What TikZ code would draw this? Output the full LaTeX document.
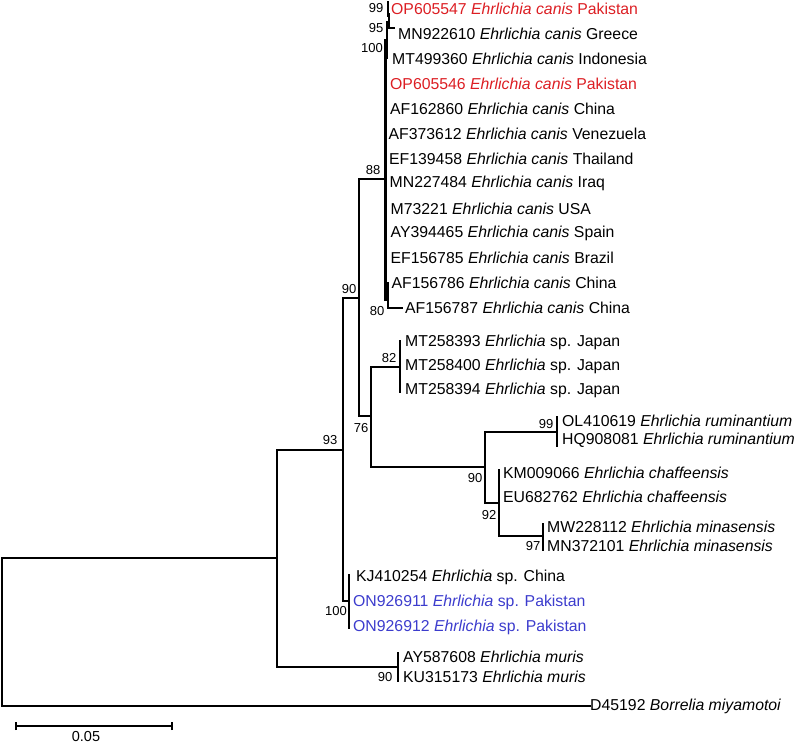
\documentclass[tikz,border=0pt]{standalone}
\usepackage{fontspec}
\setmainfont{Liberation Sans}
\definecolor{pkred}{RGB}{220,30,35}
\definecolor{pkblue}{RGB}{60,60,205}
\begin{document}
\begin{tikzpicture}[x=1pt,y=-1pt,
  br/.style={line width=2.4pt,line cap=rect},
  leaf/.style={anchor=west,inner sep=0pt,font=\fontsize{15.8}{18}\selectfont},
  bs/.style={inner sep=0pt,font=\fontsize{13}{15}\selectfont}]
\useasboundingbox (0,0) rectangle (796,747);
% leaves
\node[leaf,text=pkred] (l1) at (391,9) {OP605547 \textit{Ehrlichia canis} Pakistan};
\node[leaf] (l2) at (398,33.5) {MN922610 \textit{Ehrlichia canis} Greece};
\node[leaf] (l3) at (392,58.5) {MT499360 \textit{Ehrlichia canis} Indonesia};
\node[leaf,text=pkred] (l4) at (390,83.5) {OP605546 \textit{Ehrlichia canis} Pakistan};
\node[leaf] (l5) at (390,108.5) {AF162860 \textit{Ehrlichia canis} China};
\node[leaf] (l6) at (388.5,133.5) {AF373612 \textit{Ehrlichia canis} Venezuela};
\node[leaf] (l7) at (389,158.5) {EF139458 \textit{Ehrlichia canis} Thailand};
\node[leaf] (l8) at (389.5,183.5) {MN227484 \textit{Ehrlichia canis} Iraq};
\node[leaf] (l9) at (390.5,208.5) {M73221 \textit{Ehrlichia canis} USA};
\node[leaf] (l10) at (390.5,233.5) {AY394465 \textit{Ehrlichia canis} Spain};
\node[leaf] (l11) at (390.5,258) {EF156785 \textit{Ehrlichia canis} Brazil};
\node[leaf] (l12) at (391.5,283) {AF156786 \textit{Ehrlichia canis} China};
\node[leaf] (l13) at (405,308) {AF156787 \textit{Ehrlichia canis} China};
\node[leaf] (m1) at (405,342) {MT258393 \textit{Ehrlichia} sp. Japan};
\node[leaf] (m2) at (405,366) {MT258400 \textit{Ehrlichia} sp. Japan};
\node[leaf] (m3) at (405,390) {MT258394 \textit{Ehrlichia} sp. Japan};
\node[leaf] (r1) at (562,421) {OL410619 \textit{Ehrlichia ruminantium}};
\node[leaf] (r2) at (562,440) {HQ908081 \textit{Ehrlichia ruminantium}};
\node[leaf] (c1) at (503,473) {KM009066 \textit{Ehrlichia chaffeensis}};
\node[leaf] (c2) at (503,497) {EU682762 \textit{Ehrlichia chaffeensis}};
\node[leaf] (n1) at (547,527) {MW228112 \textit{Ehrlichia minasensis}};
\node[leaf] (n2) at (547,546) {MN372101 \textit{Ehrlichia minasensis}};
\node[leaf] (k1) at (356,577) {KJ410254 \textit{Ehrlichia} sp. China};
\node[leaf,text=pkblue] (k2) at (353,602) {ON926911 \textit{Ehrlichia} sp. Pakistan};
\node[leaf,text=pkblue] (k3) at (353,627) {ON926912 \textit{Ehrlichia} sp. Pakistan};
\node[leaf] (u1) at (403,657) {AY587608 \textit{Ehrlichia muris}};
\node[leaf] (u2) at (403,677) {KU315173 \textit{Ehrlichia muris}};
\node[leaf] (b1) at (590,706) {D45192 \textit{Borrelia miyamotoi}};
% tree branches
\draw[br] (2,558) -- (2,706) -- (b1.west);
\draw[br] (2,558) -- (277,558);
\draw[br] (277,450) -- (277,667) -- (398,667);
\draw[br] (398,653) -- (398,681);
\draw[br] (277,450) -- (343,450);
\draw[br] (343,298) -- (343,601) -- (349,601);
\draw[br] (349,575) -- (349,628);
\draw[br] (343,298) -- (359,298);
\draw[br] (359,179) -- (359,416) -- (371,416);
\draw[br] (359,179) -- (385.5,179);
\draw[br] (385.5,40) -- (385.5,300);
\draw[br] (387,22) -- (387,58);
\draw[br] (388,2) -- (388,16);
\draw[br] (389,14) -- (389,28) -- (394,28);
\draw[br] (388,283) -- (388,308) -- (402,308);
\draw[br] (371,367) -- (371,467);
\draw[br] (371,367) -- (400,367);
\draw[br] (400,341) -- (400,392);
\draw[br] (371,467) -- (485,467);
\draw[br] (485,432) -- (485,503);
\draw[br] (485,432) -- (557,432);
\draw[br] (557,417) -- (557,446);
\draw[br] (485,503) -- (499,503);
\draw[br] (499,470) -- (499,536) -- (543,536);
\draw[br] (543,524) -- (543,550);
% bootstrap labels
\node[bs] (s1) at (376,8) {99};
\node[bs] (s2) at (376,28) {95};
\node[bs] (s3) at (372,48) {100};
\node[bs] (s4) at (373,170) {88};
\node[bs] (s5) at (377,311) {80};
\node[bs] (s6) at (349,289) {90};
\node[bs] (s7) at (330,440) {93};
\node[bs] (s8) at (389,358) {82};
\node[bs] (s9) at (361,428) {76};
\node[bs] (s10) at (546,424) {99};
\node[bs] (s11) at (475,478) {90};
\node[bs] (s12) at (489,515) {92};
\node[bs] (s13) at (533,546) {97};
\node[bs] (s14) at (336,611) {100};
\node[bs] (s15) at (385,677) {90};
% scale bar
\coordinate (sa) at (16,726);
\coordinate (sb) at (172,726);
\draw[line width=2.4pt] (sa) -- (sb);
\draw[line width=2.4pt] ([yshift=-4]sa) -- ([yshift=4]sa);
\draw[line width=2.4pt] ([yshift=-4]sb) -- ([yshift=4]sb);
\node[bs,font=\fontsize{14.5}{16}\selectfont] (sl) at (86,737) {0.05};
\end{tikzpicture}
\end{document}
